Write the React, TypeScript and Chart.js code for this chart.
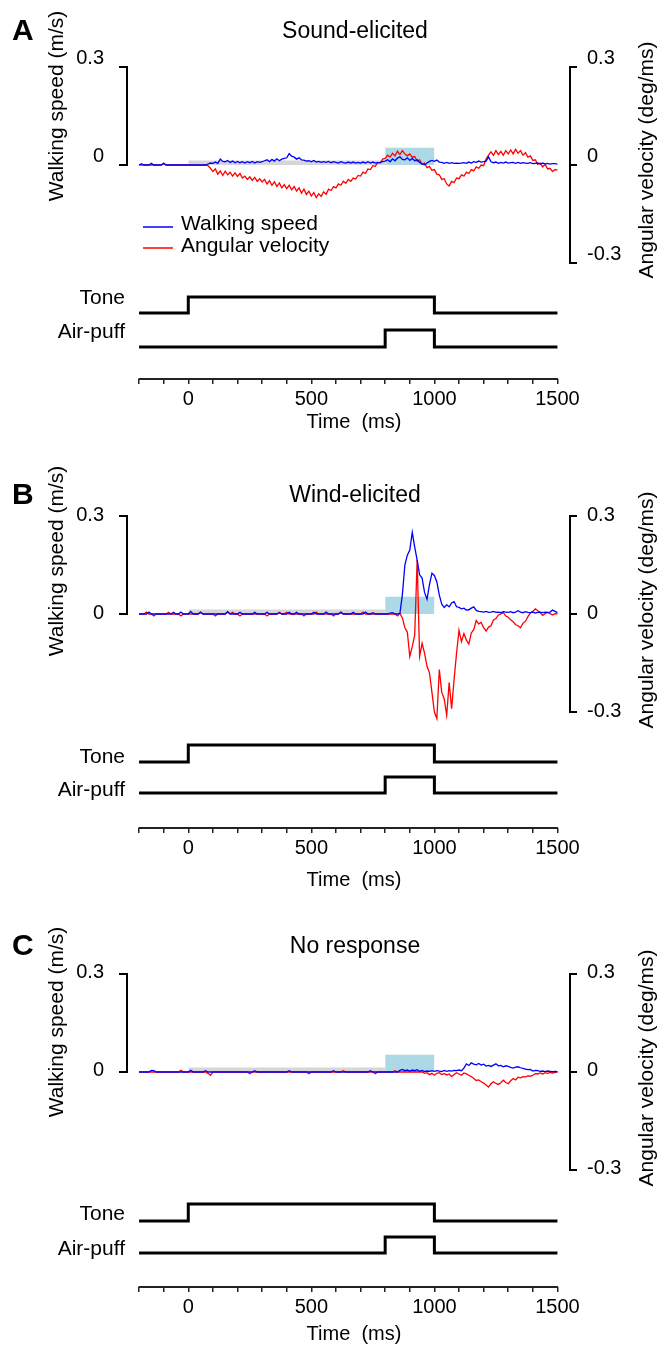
import React, { useEffect, useRef } from 'react';
import { Chart, registerables } from 'chart.js';

Chart.register(...registerables);

const FONT = "'Liberation Sans', Arial, Helvetica, sans-serif";

// ---------------- data ----------------
// sample times (ms): 10-ms bins from -200 to 1500
const sampleTimes: number[] = Array.from({ length: 171 }, (_, i) => -200 + i * 10);

const xTickValues = [-200, -100, 0, 100, 200, 300, 400, 500, 600, 700, 800, 900, 1000, 1100, 1200, 1300, 1400, 1500];
const xTickLabels = [0, 500, 1000, 1500];
const speedTicks = [0, 0.3];
const angularTicks = [-0.3, 0, 0.3];

const toneTimes = [-200, 0, 1000, 1500];
const toneLevels = [0, 1, 0, 0];
const puffTimes = [-200, 800, 1000, 1500];
const puffLevels = [0, 1, 0, 0];

const baselineWindow = [0, 800];
const baselineBoxHeight = 0.014;
const puffWindow = [800, 1000];
const puffBoxHeight = 0.053;

// A: Sound-elicited
const soundSpeed = [
  0, 0.004, 0, 0, 0, 0.005, 0, 0, 0, 0,
  0.005, 0, 0, 0, 0, 0, 0, 0, 0, 0,
  0, 0, 0, 0, 0, 0, 0, 0, 0.003, 0.006,
  0.005, 0.009, 0.005, 0.018, 0.011, 0.01, 0.014, 0.008, 0.012, 0.007,
  0.011, 0.007, 0.01, 0.006, 0.01, 0.007, 0.011, 0.006, 0.01, 0.008,
  0.01, 0.013, 0.016, 0.01, 0.017, 0.012, 0.019, 0.013, 0.018, 0.02,
  0.022, 0.035, 0.027, 0.024, 0.018, 0.022, 0.016, 0.015, 0.012, 0.013,
  0.01, 0.014, 0.009, 0.011, 0.008, 0.01, 0.008, 0.011, 0.007, 0.01,
  0.008, 0.006, 0.01, 0.007, 0.006, 0.009, 0.006, 0.009, 0.006, 0.008,
  0.006, 0.009, 0.006, 0.01, 0.006, 0.009, 0.006, 0.007, 0.008, 0.01,
  0.012, 0.016, 0.01, 0.019, 0.013, 0.021, 0.025, 0.017, 0.016, 0.022,
  0.014, 0.02, 0.013, 0.016, 0.008, 0.003, 0.001, 0.006, 0.011, 0.014,
  0.011, 0.015, 0.009, 0.008, 0.005, 0.008, 0.005, 0.007, 0.005, 0.006,
  0.005, 0.006, 0.007, 0.005, 0.009, 0.006, 0.01, 0.008, 0.012, 0.009,
  0.01, 0.012, 0.025, 0.01, 0.007, 0.009, 0.005, 0.008, 0.006, 0.009,
  0.006, 0.007, 0.008, 0.005, 0.008, 0.005, 0.007, 0.006, 0.005, 0.007,
  0.004, 0.005, 0.006, 0.003, 0.006, 0.003, 0.005, 0.003, 0.004, 0.004,
  0.003,
];
const soundAngular = [
  0, 0, 0, 0, 0, 0, 0, 0, 0, 0,
  0.005, 0, 0, 0, 0, 0, 0, 0, 0, 0,
  0, 0, 0, 0, 0, 0, 0, 0, -0.002, -0.01,
  -0.02, -0.012, -0.028, -0.018, -0.032, -0.019, -0.03, -0.022, -0.034, -0.024,
  -0.035, -0.026, -0.04, -0.034, -0.044, -0.036, -0.047, -0.038, -0.05, -0.042,
  -0.052, -0.044, -0.058, -0.048, -0.062, -0.051, -0.066, -0.055, -0.07, -0.06,
  -0.072, -0.062, -0.076, -0.066, -0.08, -0.07, -0.086, -0.074, -0.09, -0.08,
  -0.095, -0.084, -0.1, -0.088, -0.096, -0.082, -0.09, -0.074, -0.078, -0.066,
  -0.07, -0.058, -0.062, -0.05, -0.056, -0.044, -0.05, -0.04, -0.043, -0.032,
  -0.034, -0.022, -0.026, -0.012, -0.014, -0.002, -0.004, 0.008, 0.006, 0.018,
  0.02, 0.03, 0.024, 0.036, 0.028, 0.042, 0.032, 0.044, 0.034, 0.028,
  0.034, 0.024, 0.026, 0.012, 0.016, 0.002, 0.006, -0.008, -0.004, -0.016,
  -0.014, -0.028, -0.03, -0.044, -0.042, -0.058, -0.064, -0.05, -0.054, -0.04,
  -0.042, -0.03, -0.034, -0.022, -0.026, -0.014, -0.018, -0.006, -0.01, 0,
  -0.002, 0.018, 0.03, 0.04, 0.03, 0.044, 0.032, 0.042, 0.03, 0.044,
  0.034, 0.046, 0.034, 0.048, 0.036, 0.044, 0.03, 0.038, 0.024, 0.028,
  0.014, 0.016, 0.002, 0.006, -0.006, 0.002, -0.012, -0.01, -0.02, -0.014,
  -0.016,
];

// B: Wind-elicited
const windSpeed = [
  0, 0, 0, 0, 0.006, 0, 0, 0, 0, 0,
  0, 0, 0, 0, 0.005, 0, 0, 0.006, 0, 0,
  0, 0.008, 0, 0, 0, 0.005, 0, 0, 0, 0,
  0, 0, 0, 0, 0, 0, 0.006, 0, 0, 0,
  0, 0.005, 0, 0, 0, 0, 0, 0.005, 0, 0,
  0, 0, 0.005, 0, 0, 0, 0, 0.004, 0, 0,
  0, 0.005, 0, 0, 0.005, 0, 0, 0, 0, 0,
  0, 0.005, 0, 0, 0, 0, 0.006, 0, 0, 0,
  0, 0, 0.005, 0, 0, 0, 0, 0.005, 0, 0,
  0, 0, 0.006, 0, 0, 0.004, 0, 0, 0, 0,
  0, 0, 0.003, 0.004, 0, 0, 0.002, 0.06, 0.15, 0.18,
  0.196, 0.25, 0.205, 0.165, 0.12, 0.11, 0.066, 0.045, 0.09, 0.125,
  0.118, 0.098, 0.058, 0.03, 0.02, 0.028, 0.022, 0.034, 0.038, 0.022,
  0.02, 0.016, 0.018, 0.012, 0.013, 0.018, 0.022, 0.011, 0.008, 0.007,
  0.006, 0.008, 0.005, 0.006, 0.008, 0.005, 0.006, 0.004, 0.007, 0.006,
  0.005, 0.007, 0.004, 0.006, 0.01, 0.006, 0.004, 0.007, 0.005, 0.004,
  0.006, 0.003, 0.005, 0.006, 0.004, 0.006, 0.005, 0.006, 0.012, 0.008,
  0.004,
];
const windAngular = [
  0, 0, 0, 0.006, 0, 0, -0.006, 0, 0, 0,
  0, 0, 0.005, 0, 0, 0, 0, -0.006, 0, 0,
  0, 0, 0, 0, 0, 0.006, 0, 0, 0, 0,
  0, -0.006, 0, 0, 0, 0, 0.008, 0, 0.005, 0,
  0, -0.006, 0, 0, 0, 0, 0, 0, 0, 0,
  0, 0, -0.006, 0, 0, 0, 0, 0.005, 0, 0,
  0.005, 0, 0, 0, 0, 0, 0, -0.006, 0, 0,
  0, 0, 0.006, 0, 0, 0, 0, 0, 0, -0.006,
  0, 0, 0.006, 0, 0, 0, 0, 0, 0, 0,
  0, 0.006, 0, 0, 0, 0, 0, 0, 0, 0,
  0, 0, 0, 0, 0, -0.006, 0.002, -0.012, -0.042, -0.055,
  -0.13, -0.1, -0.065, 0.165, -0.13, -0.09, -0.12, -0.16, -0.18, -0.24,
  -0.3, -0.32, -0.17, -0.24, -0.26, -0.31, -0.21, -0.29, -0.2, -0.12,
  -0.05, -0.085, -0.06, -0.08, -0.092, -0.058, -0.048, -0.02, -0.03, -0.026,
  -0.042, -0.052, -0.04, -0.036, -0.018, -0.014, -0.003, 0, 0.004, -0.006,
  -0.01, -0.018, -0.024, -0.033, -0.036, -0.042, -0.028, -0.022, -0.008, 0.003,
  0.008, 0.016, 0.01, 0.004, -0.004, 0.001, 0.005, 0.001, -0.003, 0.001,
  0,
];

// C: No response
const noneSpeed = [
  0, 0, 0, 0, 0, 0.005, 0.004, 0, 0, 0,
  0, 0, 0, 0, 0, 0, 0, 0, 0, 0,
  0, 0.005, 0, 0, 0, 0, 0, 0.004, 0, 0,
  0, 0, 0, 0, 0, 0, 0, 0, 0, 0,
  0, 0, 0, 0, 0, 0, 0, 0.004, 0, 0,
  0, 0, 0, 0, 0, 0, 0, 0, 0, 0,
  0, 0.004, 0, 0, 0, 0, 0, 0, 0, 0,
  0, 0, 0, 0, 0, 0, 0, 0, 0, 0.004,
  0, 0, 0, 0, 0, 0, 0, 0, 0, 0,
  0, 0, 0, 0, 0.004, 0, 0, 0, 0, 0,
  0, 0, 0, 0, 0, 0, 0.005, 0.008, 0.004, 0.006,
  0.003, 0.006, 0.004, 0.007, 0.002, 0.005, 0.001, 0.003, 0.002, 0.004,
  0.002, 0.004, 0.003, 0.001, 0.005, 0.002, 0.004, 0.003, 0.005, 0.004,
  0.006, 0.004, 0.012, 0.025, 0.02, 0.028, 0.024, 0.022, 0.026, 0.021,
  0.024, 0.018, 0.02, 0.017, 0.021, 0.025, 0.019, 0.02, 0.016, 0.019,
  0.017, 0.014, 0.012, 0.015, 0.016, 0.013, 0.011, 0.009, 0.007, 0.008,
  0.003, 0.005, 0.004, 0.002, 0.003, 0.001, 0.003, 0.002, 0.001, 0.002,
  0.001,
];
const noneAngular = [
  0, 0, 0, 0, 0, 0, 0, 0, 0, 0,
  0, 0, 0, 0, 0, 0, 0, 0.005, 0, 0,
  0, 0, 0, 0, 0, 0, 0, 0, -0.004, -0.01,
  0, 0, 0, 0, 0, 0, 0, 0, 0, 0,
  0, 0, 0, 0, 0, -0.005, 0, 0, 0, 0,
  0, 0, 0, 0, 0, 0, 0, 0, 0, 0,
  0, 0, 0, 0, 0, 0, 0, 0, 0, -0.005,
  0, 0, 0, 0, 0, 0, 0, 0, 0, 0,
  0, 0, 0, 0.004, 0, 0, 0, 0, 0, 0,
  0, 0, 0, 0, 0, 0, -0.005, 0, 0, 0,
  0, 0, 0, 0, 0.004, 0, 0, 0, 0, 0,
  0, 0, 0, 0, 0, 0, -0.004, -0.002, -0.008, -0.004,
  -0.01, -0.004, -0.002, -0.008, -0.005, -0.009, -0.006, -0.014, -0.008, -0.002,
  -0.006, -0.01, -0.003, -0.006, -0.01, -0.014, -0.02, -0.026, -0.024, -0.03,
  -0.034, -0.04, -0.046, -0.036, -0.03, -0.035, -0.038, -0.033, -0.025, -0.032,
  -0.036, -0.027, -0.02, -0.024, -0.016, -0.018, -0.014, -0.015, -0.012, -0.013,
  -0.01, -0.005, -0.006, -0.003, -0.006, -0.002, -0.004, -0.001, -0.003, -0.001,
  0,
];

// ---------------- layout ----------------
type PanelLayout = {
  letter: string;
  title: string;
  speed: number[];
  angular: number[];
  top: number;
  height: number;
  tickTop: number;
  tickZero: number;
  axisY: number;
  toneHi: number;
  toneLo: number;
  puffHi: number;
  puffLo: number;
  headY: number;
  labelOffset: number;
  leftTitleY: number;
  rightTitleY: number;
  timeY: number;
  toneLabelY: number;
  puffLabelY: number;
  legend: boolean;
};

const CANVAS_W = 659;
const Y_LEFT_W = 127;
const Y_RIGHT_W = 89;
const X_MIN = -249;
const X_MAX = 1551;

const panels: PanelLayout[] = [
  {
    letter: 'A', title: 'Sound-elicited', speed: soundSpeed, angular: soundAngular,
    top: 0, height: 440, tickTop: 67, tickZero: 165, axisY: 379,
    toneHi: 297, toneLo: 313, puffHi: 330, puffLo: 347,
    headY: 32, labelOffset: -9, leftTitleY: 106, rightTitleY: 160, timeY: 422,
    toneLabelY: 298, puffLabelY: 332, legend: true,
  },
  {
    letter: 'B', title: 'Wind-elicited', speed: windSpeed, angular: windAngular,
    top: 440, height: 455, tickTop: 76, tickZero: 174, axisY: 388,
    toneHi: 305, toneLo: 322, puffHi: 337, puffLo: 353,
    headY: 56, labelOffset: -1, leftTitleY: 121, rightTitleY: 170, timeY: 440,
    toneLabelY: 317, puffLabelY: 350, legend: false,
  },
  {
    letter: 'C', title: 'No response', speed: noneSpeed, angular: noneAngular,
    top: 895, height: 458, tickTop: 79, tickZero: 177, axisY: 392,
    toneHi: 309, toneLo: 326, puffHi: 342, puffLo: 358,
    headY: 52, labelOffset: -2, leftTitleY: 127, rightTitleY: 173, timeY: 439,
    toneLabelY: 319, puffLabelY: 354, legend: false,
  },
];

function levelRange(hiPx: number, loPx: number, topPx: number, bottomPx: number) {
  const unit = loPx - hiPx;
  return { min: -(bottomPx - loPx) / unit, max: (loPx - topPx) / unit };
}

function pts(times: number[], values: number[]) {
  return times.map((t, i) => ({ x: t, y: values[i] }));
}

function decorPlugin(p: PanelLayout) {
  return {
    id: 'decor' + p.letter,
    afterDraw(chart: any) {
      const { ctx, chartArea, scales } = chart;
      const yL = scales.yL;
      const yR = scales.yR;
      const x = scales.x;
      ctx.save();
      ctx.strokeStyle = '#000';
      ctx.fillStyle = '#000';
      ctx.lineWidth = 2;
      ctx.lineCap = 'butt';
      // y-axis brackets
      ctx.beginPath();
      ctx.moveTo(chartArea.left, yL.getPixelForValue(speedTicks[1]) - 1);
      ctx.lineTo(chartArea.left, yL.getPixelForValue(speedTicks[0]) + 1);
      ctx.moveTo(chartArea.right, yR.getPixelForValue(angularTicks[2]) - 1);
      ctx.lineTo(chartArea.right, yR.getPixelForValue(angularTicks[0]) + 1);
      ctx.stroke();
      // x-axis line
      ctx.strokeStyle = '#222';
      ctx.beginPath();
      ctx.moveTo(x.getPixelForValue(xTickValues[0]) - 0.5, chartArea.bottom);
      ctx.lineTo(x.getPixelForValue(xTickValues[xTickValues.length - 1]) + 0.5, chartArea.bottom);
      ctx.stroke();

      ctx.textBaseline = 'middle';
      // panel letter
      ctx.font = `bold 30px ${FONT}`;
      ctx.textAlign = 'left';
      ctx.fillText(p.letter, 12, p.headY);
      // panel title
      ctx.font = `23px ${FONT}`;
      ctx.textAlign = 'center';
      ctx.fillText(p.title, 355, p.headY);
      // time title
      ctx.font = `20px ${FONT}`;
      ctx.fillText('Time  (ms)', 354, p.timeY);
      // stimulus labels
      ctx.font = `21px ${FONT}`;
      ctx.textAlign = 'right';
      ctx.fillText('Tone', 125, p.toneLabelY);
      ctx.fillText('Air-puff', 125, p.puffLabelY);
      // axis titles
      ctx.textAlign = 'center';
      ctx.save();
      ctx.translate(57, p.leftTitleY);
      ctx.rotate(-Math.PI / 2);
      ctx.fillText('Walking speed (m/s)', 0, 0);
      ctx.restore();
      ctx.save();
      ctx.translate(647, p.rightTitleY);
      ctx.rotate(-Math.PI / 2);
      ctx.fillText('Angular velocity (deg/ms)', 0, 0);
      ctx.restore();
      // legend
      if (p.legend) {
        ctx.lineWidth = 1.5;
        ctx.strokeStyle = '#0000ff';
        ctx.beginPath();
        ctx.moveTo(143, 227);
        ctx.lineTo(173, 227);
        ctx.stroke();
        ctx.strokeStyle = '#ff0000';
        ctx.beginPath();
        ctx.moveTo(143, 248);
        ctx.lineTo(173, 248);
        ctx.stroke();
        ctx.textAlign = 'left';
        ctx.font = `21px ${FONT}`;
        ctx.fillText('Walking speed', 181, 224);
        ctx.fillText('Angular velocity', 181, 246);
      }
      ctx.restore();
    },
  };
}

function buildConfig(p: PanelLayout): any {
  const traceMin = -((p.axisY - p.tickZero) * speedTicks[1]) / (p.tickZero - p.tickTop);
  const tone = levelRange(p.toneHi, p.toneLo, p.tickTop, p.axisY);
  const puff = levelRange(p.puffHi, p.puffLo, p.tickTop, p.axisY);
  const tickFont = { family: FONT, size: 20 };
  return {
    type: 'line',
    data: {
      datasets: [
        {
          label: 'Walking speed', data: pts(sampleTimes, p.speed), yAxisID: 'yL',
          borderColor: '#0000ff', borderWidth: 1.3, pointRadius: 0, tension: 0, fill: false,
        },
        {
          label: 'Angular velocity', data: pts(sampleTimes, p.angular), yAxisID: 'yR',
          borderColor: '#ff0000', borderWidth: 1.3, pointRadius: 0, tension: 0, fill: false,
        },
        {
          label: 'Tone', data: pts(toneTimes, toneLevels), yAxisID: 'yTone', stepped: true,
          borderColor: '#000', borderWidth: 3, pointRadius: 0, fill: false,
          borderCapStyle: 'butt', borderJoinStyle: 'miter',
        },
        {
          label: 'Air-puff', data: pts(puffTimes, puffLevels), yAxisID: 'yPuff', stepped: true,
          borderColor: '#000', borderWidth: 3, pointRadius: 0, fill: false,
          borderCapStyle: 'butt', borderJoinStyle: 'miter',
        },
        {
          label: 'Baseline window',
          data: baselineWindow.map((t) => ({ x: t, y: baselineBoxHeight })), yAxisID: 'yL',
          borderWidth: 0, borderColor: 'rgba(0,0,0,0)', backgroundColor: '#d6d6d6',
          pointRadius: 0, fill: 'origin',
        },
        {
          label: 'Air-puff window',
          data: puffWindow.map((t) => ({ x: t, y: puffBoxHeight })), yAxisID: 'yL',
          borderWidth: 0, borderColor: 'rgba(0,0,0,0)', backgroundColor: '#add8e6',
          pointRadius: 0, fill: 'origin',
        },
      ],
    },
    options: {
      animation: false,
      responsive: false,
      maintainAspectRatio: false,
      devicePixelRatio: 1,
      events: [],
      layout: { padding: { top: p.tickTop, left: 0, right: 0, bottom: 0 } },
      plugins: { legend: { display: false }, tooltip: { enabled: false }, title: { display: false } },
      scales: {
        x: {
          type: 'linear', position: 'bottom', min: X_MIN, max: X_MAX, bounds: 'data',
          afterBuildTicks: (s: any) => { s.ticks = xTickValues.map((v) => ({ value: v })); },
          afterFit: (s: any) => { s.height = p.height - p.axisY; },
          ticks: {
            autoSkip: false, maxRotation: 0, minRotation: 0, padding: 3, color: '#000', font: tickFont,
            callback: (v: number) => (xTickLabels.includes(v) ? String(v) : ''),
          },
          grid: { display: true, drawOnChartArea: false, drawTicks: true, tickLength: 5, color: '#222', lineWidth: 1.5 },
          border: { display: false },
        },
        yL: {
          type: 'linear', position: 'left', min: traceMin, max: speedTicks[1], bounds: 'data',
          afterBuildTicks: (s: any) => { s.ticks = speedTicks.map((v) => ({ value: v })); },
          afterFit: (s: any) => { s.width = Y_LEFT_W; },
          ticks: { padding: 15, color: '#000', font: tickFont, labelOffset: p.labelOffset, callback: (v: number) => String(v) },
          grid: { display: true, drawOnChartArea: false, drawTicks: true, tickLength: 8, color: '#000', lineWidth: 2 },
          border: { display: false },
        },
        yR: {
          type: 'linear', position: 'right', min: traceMin, max: angularTicks[2], bounds: 'data',
          afterBuildTicks: (s: any) => { s.ticks = angularTicks.map((v) => ({ value: v })); },
          afterFit: (s: any) => { s.width = Y_RIGHT_W; },
          ticks: { padding: 10, color: '#000', font: tickFont, labelOffset: p.labelOffset, callback: (v: number) => String(v) },
          grid: { display: true, drawOnChartArea: false, drawTicks: true, tickLength: 7, color: '#000', lineWidth: 2 },
          border: { display: false },
        },
        yTone: { type: 'linear', display: false, min: tone.min, max: tone.max, bounds: 'data' },
        yPuff: { type: 'linear', display: false, min: puff.min, max: puff.max, bounds: 'data' },
      },
    },
    plugins: [decorPlugin(p)],
  };
}

function Panel({ layout }: { layout: PanelLayout }) {
  const ref = useRef<HTMLCanvasElement | null>(null);
  useEffect(() => {
    if (!ref.current) return;
    const chart = new Chart(ref.current, buildConfig(layout));
    return () => chart.destroy();
  }, [layout]);
  return (
    <canvas
      ref={ref}
      width={CANVAS_W}
      height={layout.height}
      style={{ position: 'absolute', left: 0, top: layout.top, width: CANVAS_W, height: layout.height, display: 'block' }}
    />
  );
}

export default function App() {
  return (
    <div style={{ position: 'absolute', left: 0, top: 0, width: CANVAS_W, height: 1353, background: '#fff', overflow: 'hidden' }}>
      {panels.map((p) => (
        <Panel key={p.letter} layout={p} />
      ))}
    </div>
  );
}
